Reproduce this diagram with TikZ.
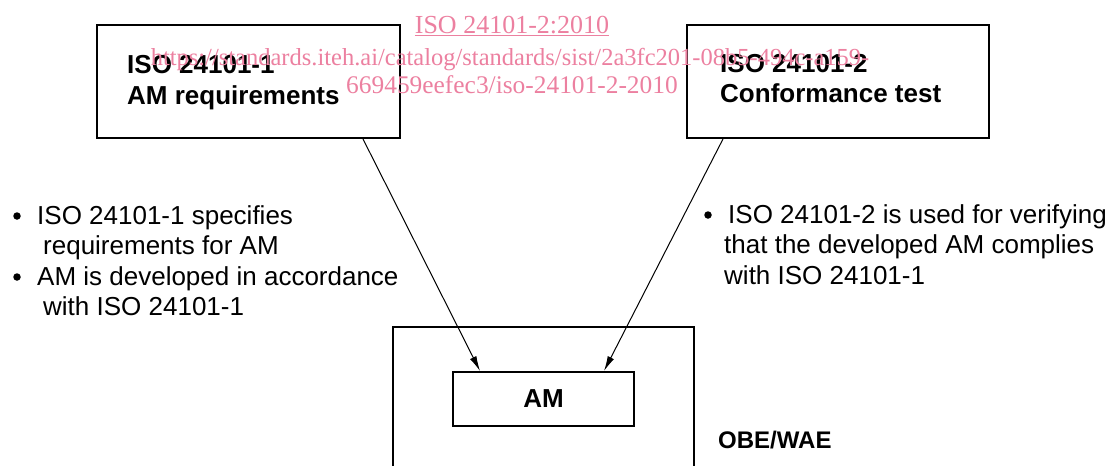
\documentclass[tikz,border=0pt]{standalone}
\usepackage{fontspec}
\setmainfont{Liberation Sans}
\newfontfamily\wmfont{Liberation Serif}
\usetikzlibrary{arrows.meta,calc}
\definecolor{wmpink}{RGB}{236,128,160}
\tikzset{
  box/.style={draw, line width=2pt, inner sep=0pt, anchor=north west},
  txt/.style={inner sep=0pt, anchor=base west, font=\fontsize{26}{30}\selectfont},
  btxt/.style={inner sep=0pt, anchor=base west, font=\fontsize{26}{30}\selectfont\bfseries},
  bul/.style={circle, fill=black, inner sep=0pt, minimum size=7.5pt},
  wm/.style={inner sep=0pt, anchor=base, text=wmpink, font=\fontsize{26}{30}\selectfont\wmfont},
  arr/.style={line width=1pt, -{Latex[length=15pt,width=7pt]}}
}
\begin{document}
\begin{tikzpicture}[x=1pt,y=-1pt]
\useasboundingbox (0,0) rectangle (1112,466);
% boxes
\node[box, minimum width=303pt, minimum height=113pt] (b1) at (96,24) {};
\node[box, minimum width=302pt, minimum height=113pt] (b2) at (686,24) {};
\node[box, minimum width=301pt, minimum height=200pt] (obe) at (392,326) {};
\node[box, minimum width=181pt, minimum height=54pt, font=\fontsize{26}{30}\selectfont\bfseries] (am) at (452,371) {AM};
% box texts
\node[btxt] (t1a) at (127,73) {ISO 24101-1};
\node[btxt] (t1b) at (127,104) {AM requirements};
\node[btxt] (t2a) at (720,72) {ISO 24101-2};
\node[btxt] (t2b) at (720,102) {Conformance test};
\node[btxt, font=\fontsize{24}{28}\selectfont\bfseries] (obelab) at (718,448) {OBE/WAE};
% arrows
\draw[arr] ($(b1.south west)+(267,0)$) -- ($(am.north west)+(28,0)$);
\draw[arr] ($(b2.south west)+(37,0)$) -- ($(am.north west)+(152,0)$);
% left bullets
\node[bul] (lb1) at (17,216) {};
\node[txt] (l1) at (37,224) {ISO 24101-1 specifies};
\node[txt] (l2) at (43,254) {requirements for AM};
\node[bul] (lb2) at (17,277) {};
\node[txt] (l3) at (37,285) {AM is developed in accordance};
\node[txt] (l4) at (43,315) {with ISO 24101-1};
% right bullets
\node[bul] (rb1) at (708,215) {};
\node[txt] (r1) at (728,223) {ISO 24101-2 is used for verifying};
\node[txt] (r2) at (724,253) {that the developed AM complies};
\node[txt] (r3) at (724,284) {with ISO 24101-1};
% watermark
\node[wm] (w1) at (512,33) {\underline{ISO 24101-2:2010}};
\node[wm, font=\fontsize{24.5}{30}\selectfont\wmfont] (w2) at (510,65) {https://standards.iteh.ai/catalog/standards/sist/2a3fc201-08b5-494c-a159-};
\node[wm, font=\fontsize{25.4}{30}\selectfont\wmfont] (w3) at (512,93) {669459eefec3/iso-24101-2-2010};
\end{tikzpicture}
\end{document}
